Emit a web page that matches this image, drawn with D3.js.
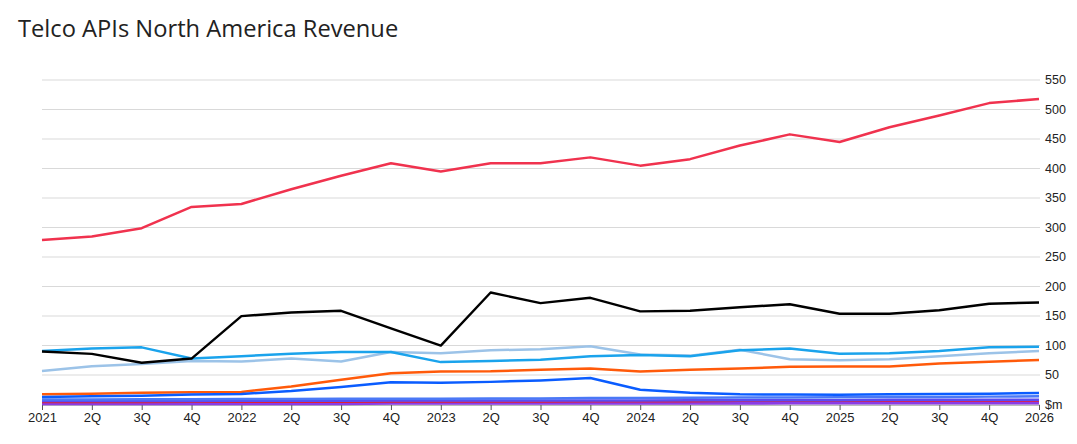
<!DOCTYPE html>
<html>
<head>
<meta charset="utf-8">
<script src="https://cdn.jsdelivr.net/npm/d3@7"></script>
<style>
    body { margin: 0; background: #fff; }
    svg { display: block; }
</style>
</head>
<body>
<svg id="chart" width="1077" height="444"></svg>
<script>
// 横轴: 季度标签
const quarters = ['2021', '2Q', '3Q', '4Q', '2022', '2Q', '3Q', '4Q', '2023', '2Q', '3Q', '4Q',
    '2024', '2Q', '3Q', '4Q', '2025', '2Q', '3Q', '4Q', '2026']
const yTicks = [0, 50, 100, 150, 200, 250, 300, 350, 400, 450, 500, 550]

// 各条线的数值 ($m)
const redSeries = [278, 284, 298, 334, 339, 364, 387, 408, 394, 408, 408, 418, 404, 415, 438, 457, 444, 469, 489, 510, 517]
const blackSeries = [89, 85, 70, 77, 149, 155, 158, 128, 99, 189, 171, 180, 157, 158, 164, 169, 153, 153, 159, 170, 172]
const cyanSeries = [90, 94, 96, 77, 81, 85, 88, 88, 71, 73, 75, 81, 83, 81, 91, 94, 85, 86, 90, 96, 97]
const paleSeries = [56, 64, 68, 73, 72, 77, 72, 88, 86, 91, 93, 98, 84, 82, 92, 76, 74, 76, 81, 86, 90]
const orangeSeries = [16.5, 17.5, 19, 20, 20.5, 29.5, 41, 52, 55, 55.5, 58, 60, 55, 58, 60, 63, 63.5, 63.5, 68.5, 71.5, 74.5]
const blueSeries = [12, 13, 14, 16, 17, 22, 29, 37, 36, 37.5, 40, 44, 24, 19, 16.5, 16, 15.5, 16.5, 17, 17.5, 18.5]
const royalSeries = [7.5, 7.5, 8, 8, 8.5, 8.5, 9, 9, 9, 9.5, 9.5, 10, 10, 10.5, 11, 11, 11.5, 12, 12, 12.5, 13]
const indigoSeries = [5, 5, 5, 5, 5.5, 5.5, 5.5, 6, 6, 6, 6, 6, 6, 6.5, 6.5, 6.5, 6.5, 7, 7, 7, 7]
const thinRedSeries = [2.5, 2.5, 2.5, 3, 3, 3, 3, 3.5, 3.5, 3.5, 3.5, 4, 4, 4, 4.5, 4.5, 4.5, 5, 5, 5, 5]
const purpleSeries = [1, 1, 1, 1, 1, 1, 1, 1.5, 1.5, 1.5, 1.5, 1.5, 1.5, 1.5, 1.5, 2, 2, 2, 2, 2, 2]

// 绘制顺序 (下面的先画)
const lines = [
    { values: purpleSeries, color: '#8a3be6', width: 3.5 },
    { values: thinRedSeries, color: '#e3202e', width: 1.5 },
    { values: indigoSeries, color: '#5a4cf2', width: 2.5 },
    { values: royalSeries, color: '#4a78f6', width: 2.5 },
    { values: paleSeries, color: '#9cc3e8', width: 2.5 },
    { values: cyanSeries, color: '#1aa3ec', width: 2.5 },
    { values: orangeSeries, color: '#ff5a0a', width: 2.5 },
    { values: blueSeries, color: '#0a5cff', width: 2.5 },
    { values: blackSeries, color: '#000000', width: 2.4 },
    { values: redSeries, color: '#f0324e', width: 2.5 }
]

const svg = d3.select('#chart')
const left = 42, right = 1039, gridRight = 1040

const x = d3.scaleLinear()
    .domain([0, quarters.length - 1])
    .range([left, right])

const y = d3.scaleLinear()
    .domain([0, 550])
    .range([404, 79.5])

// 标题
svg.append('text')
    .attr('x', 18)
    .attr('y', 37)
    .attr('font-family', '"Open Sans", "Noto Sans", sans-serif')
    .attr('font-size', 23.7)
    .attr('fill', '#222')
    .text('Telco APIs North America Revenue')

// 网格线 + 右侧刻度
const yAxis = svg.append('g')
    .attr('transform', `translate(${gridRight},0)`)
    .call(d3.axisRight(y)
        .tickValues(yTicks)
        .tickSize(-(gridRight - left))
        .tickPadding(5)
        .tickFormat(d => d === 0 ? '$m' : d))
yAxis.select('.domain').remove()
yAxis.selectAll('.tick line')
    .attr('stroke', '#d9d9d9')
yAxis.selectAll('.tick text')
    .attr('font-family', '"Liberation Sans", Arial, sans-serif')
    .attr('font-size', 12.5)
    .attr('fill', '#222')

// 横轴
const xAxis = svg.append('g')
    .attr('transform', `translate(0,${y(0) + 1})`)
    .call(d3.axisBottom(x)
        .tickValues(d3.range(quarters.length))
        .tickSize(5)
        .tickSizeOuter(0)
        .tickPadding(3)
        .tickFormat(i => quarters[i]))
xAxis.select('.domain').attr('stroke', '#bbb')
xAxis.selectAll('.tick line').attr('stroke', '#555')
xAxis.selectAll('.tick text')
    .attr('font-family', '"Liberation Sans", Arial, sans-serif')
    .attr('font-size', 13)
    .attr('fill', '#222')

// 折线
const lineGen = d3.line()
    .x((d, i) => x(i))
    .y(d => y(d))

svg.append('g')
    .selectAll('path')
    .data(lines)
    .enter()
    .append('path')
    .attr('d', item => lineGen(item.values))
    .attr('fill', 'none')
    .attr('stroke', item => item.color)
    .attr('stroke-width', item => item.width)
    .attr('stroke-linejoin', 'round')
</script>
</body>
</html>
